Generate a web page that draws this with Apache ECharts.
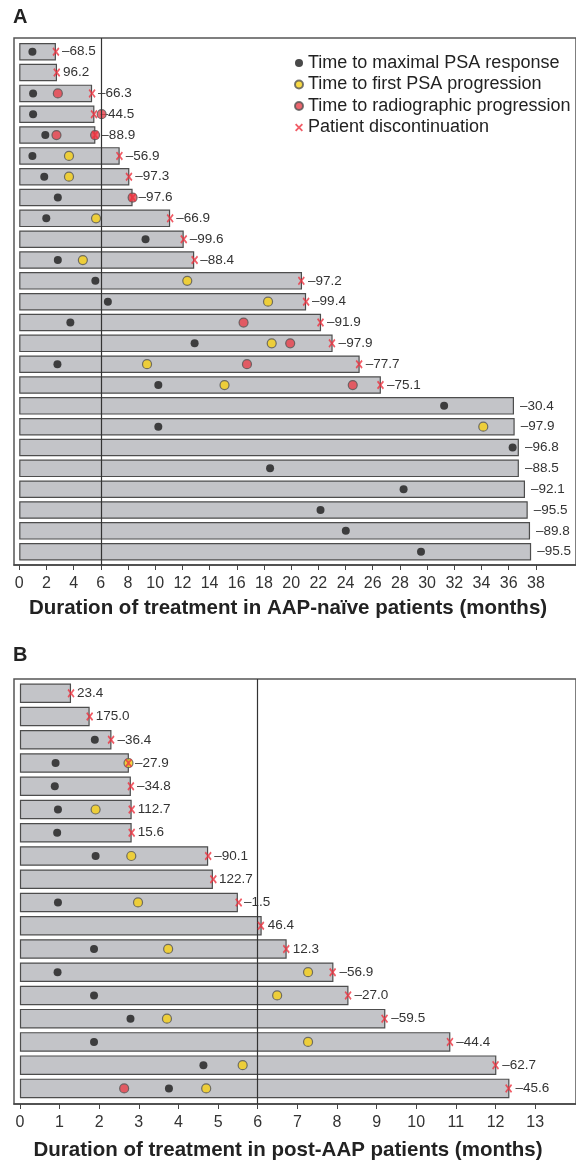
<!DOCTYPE html>
<html>
<head>
<meta charset="utf-8">
<script src="https://cdn.jsdelivr.net/npm/echarts@6/dist/echarts.min.js"></script>
<style>
  html, body { margin: 0; padding: 0; background: #fff; }
  #chart { width: 576px; height: 1163px; }
</style>
</head>
<body>
<div id="chart"></div>
<script>
// Panel A: AAP-naive patients (months), one row per patient, top to bottom
var durA = [2.7, 2.78, 5.36, 5.53, 5.6, 7.39, 8.1, 8.34, 11.1, 12.1, 12.87, 20.8, 21.1, 22.2, 23.05, 25.04, 26.6,
	36.39, 36.44, 36.75, 36.75, 37.2, 37.4, 37.57, 37.65];
var labelsA = ['–68.5', '96.2', '–66.3', '–44.5', '–88.9', '–56.9', '–97.3', '–97.6', '–66.9', '–99.6', '–88.4',
	'–97.2', '–99.4', '–91.9', '–97.9', '–77.7', '–75.1', '–30.4', '–97.9', '–96.8', '–88.5', '–92.1', '–95.5', '–89.8', '–95.5'];
// [months, row]
var psaRespA = [[0.97, 0], [1.02, 2], [1.02, 3], [1.92, 4], [0.97, 5], [1.84, 6], [2.84, 7], [1.99, 8], [9.29, 9],
	[2.84, 10], [5.6, 11], [6.52, 12], [3.76, 13], [12.9, 14], [2.81, 15], [10.23, 16], [31.25, 17], [10.23, 18],
	[36.29, 19], [18.45, 20], [28.27, 21], [22.16, 22], [24.02, 23], [29.55, 24]];
var psaProgA = [[3.66, 5], [3.66, 6], [5.65, 8], [4.68, 10], [12.36, 11], [18.3, 12], [18.57, 14], [9.4, 15],
	[15.1, 16], [34.13, 18]];
var radProgA = [[2.84, 2], [6.06, 3], [2.74, 4], [5.58, 4], [8.34, 7], [16.5, 13], [19.93, 14], [16.75, 15], [24.53, 16]];
var discA = [[2.7, 0], [2.76, 1], [5.36, 2], [5.5, 3], [5.58, 4], [7.37, 5], [8.07, 6], [8.34, 7], [11.1, 8],
	[12.1, 9], [12.9, 10], [20.75, 11], [21.1, 12], [22.16, 13], [23.0, 14], [25.0, 15], [26.57, 16]];
var ticksA = [0, 2, 4, 6, 8, 10, 12, 14, 16, 18, 20, 22, 24, 26, 28, 30, 32, 34, 36, 38];

// Panel B: post-AAP patients (months)
var durB = [1.29, 1.76, 2.31, 2.75, 2.8, 2.82, 2.82, 4.75, 4.87, 5.5, 6.1, 6.73, 7.91, 8.29, 9.22, 10.86, 12.02, 12.35];
var labelsB = ['23.4', '175.0', '–36.4', '–27.9', '–34.8', '112.7', '15.6', '–90.1', '122.7', '–1.5', '46.4',
	'12.3', '–56.9', '–27.0', '–59.5', '–44.4', '–62.7', '–45.6'];
var psaRespB = [[1.89, 2], [0.9, 3], [0.88, 4], [0.96, 5], [0.94, 6], [1.91, 7], [0.96, 9], [1.87, 11], [0.95, 12],
	[1.87, 13], [2.79, 14], [1.87, 15], [4.63, 16], [3.76, 17]];
var psaProgB = [[2.74, 3], [1.91, 5], [2.81, 7], [2.98, 9], [3.74, 11], [7.27, 12], [6.49, 13], [3.71, 14],
	[7.27, 15], [5.62, 16], [4.7, 17]];
var radProgB = [[2.63, 17]];
var discB = [[1.29, 0], [1.76, 1], [2.3, 2], [2.74, 3], [2.8, 4], [2.82, 5], [2.82, 6], [4.75, 7], [4.88, 8],
	[5.52, 9], [6.08, 10], [6.72, 11], [7.89, 12], [8.28, 13], [9.2, 14], [10.85, 15], [12.0, 16], [12.33, 17]];
var ticksB = [0, 1, 2, 3, 4, 5, 6, 7, 8, 9, 10, 11, 12, 13];

var names = ['Time to maximal PSA response', 'Time to first PSA progression',
	'Time to radiographic progression', 'Patient discontinuation'];

var FONT = 'Liberation Sans';
var crossPath = 'path://M0,1.6L1.6,0L5,3.4L8.4,0L10,1.6L6.6,5L10,8.4L8.4,10L5,6.6L1.6,10L0,8.4L3.4,5Z';

var chart = echarts.init(document.getElementById('chart'));

function frameXAxis(grid, min, max, ticks, name, labelMargin, nameGap) {
	return {
		type: 'value', gridIndex: grid, min: min, max: max,
		axisLine: { show: true, lineStyle: { color: '#444', width: 1.5 } },
		axisTick: { show: true, length: 5, customValues: ticks, lineStyle: { color: '#444' } },
		axisLabel: { customValues: ticks, color: '#333', fontSize: 16, margin: labelMargin, fontFamily: FONT },
		splitLine: { show: false },
		name: name, nameLocation: 'middle', nameGap: nameGap,
		nameTextStyle: { fontSize: 20.5, fontWeight: 'bold', color: '#222', fontFamily: FONT, padding: [0, 14, 0, 0] }
	};
}

function dataXAxis(grid, min, max) {
	return { type: 'value', gridIndex: grid, min: min, max: max, show: false };
}

function panelSeries(xi, dur, labels, resp, prog, rad, disc) {
	return [{
		type: 'line', xAxisIndex: xi - 1, yAxisIndex: xi - 1, data: [], z: 3,
		markLine: {
			silent: true, symbol: 'none', label: { show: false }, animation: false,
			lineStyle: { color: '#333', width: 1.2, type: 'solid' },
			data: [{ xAxis: 6 }]
		}
	}, {
		type: 'bar', xAxisIndex: xi, yAxisIndex: xi, data: dur, z: 2,
		barWidth: xi === 1 ? 17.5 : 19.5,
		itemStyle: { color: '#c3c4c8', borderColor: '#4d4d4d', borderWidth: 1.2 },
		label: {
			show: true, position: 'right', distance: 6, color: '#333', fontSize: 13.5, fontFamily: FONT,
			formatter: function (p) { return labels[p.dataIndex]; }
		}
	}, {
		name: names[0], type: 'scatter', xAxisIndex: xi, yAxisIndex: xi, data: resp, z: 4,
		symbol: 'circle', symbolSize: 8, itemStyle: { color: '#1b1b1b' }
	}, {
		name: names[1], type: 'scatter', xAxisIndex: xi, yAxisIndex: xi, data: prog, z: 4,
		symbol: 'circle', symbolSize: 9, itemStyle: { color: '#f7d117', borderColor: '#555', borderWidth: 1.2 }
	}, {
		name: names[2], type: 'scatter', xAxisIndex: xi, yAxisIndex: xi, data: rad, z: 4,
		symbol: 'circle', symbolSize: 9, itemStyle: { color: '#e8404a', borderColor: '#555', borderWidth: 1.2 }
	}, {
		name: names[3], type: 'scatter', xAxisIndex: xi, yAxisIndex: xi, data: disc, z: 5,
		symbol: crossPath, symbolSize: [7, 9], itemStyle: { color: '#ee3340' }
	}];
}

var option = {
	animation: false,
	backgroundColor: '#fff',
	textStyle: { fontFamily: FONT },
	title: [
		{ text: 'A', left: 8, top: 2, textStyle: { fontSize: 20, fontWeight: 'bold', color: '#222', fontFamily: FONT } },
		{ text: 'B', left: 8, top: 640, textStyle: { fontSize: 20, fontWeight: 'bold', color: '#222', fontFamily: FONT } }
	],
	legend: {
		data: names, orient: 'vertical', left: 289, top: 49, itemGap: 3.5,
		itemWidth: 8, itemHeight: 8,
		textStyle: { fontSize: 18, color: '#222', fontFamily: FONT }
	},
	grid: [
		{ left: 14, width: 570, top: 38, height: 527, show: true, borderColor: '#555', borderWidth: 1.5 },
		{ left: 14, width: 570, top: 41.3, height: 520.8 },
		{ left: 14, width: 570, top: 679, height: 425, show: true, borderColor: '#555', borderWidth: 1.5 },
		{ left: 14, width: 570, top: 681.7, height: 418.3 }
	],
	xAxis: [
		frameXAxis(0, -0.384, 40.95, ticksA, 'Duration of treatment in AAP-naïve patients (months)', 11, 33),
		dataXAxis(1, -0.384, 40.95),
		frameXAxis(2, -0.149, 14.03, ticksB, 'Duration of treatment in post-AAP patients (months)', 11, 36),
		dataXAxis(3, -0.149, 14.03)
	],
	yAxis: [
		{ type: 'value', gridIndex: 0, min: 0, max: 1, show: false },
		{ type: 'category', gridIndex: 1, inverse: true, show: false, data: durA.map(function (v, i) { return String(i + 1); }) },
		{ type: 'value', gridIndex: 2, min: 0, max: 1, show: false },
		{ type: 'category', gridIndex: 3, inverse: true, show: false, data: durB.map(function (v, i) { return String(i + 1); }) }
	],
	series: panelSeries(1, durA, labelsA, psaRespA, psaProgA, radProgA, discA)
		.concat(panelSeries(3, durB, labelsB, psaRespB, psaProgB, radProgB, discB))
};

chart.setOption(option);
</script>
</body>
</html>
